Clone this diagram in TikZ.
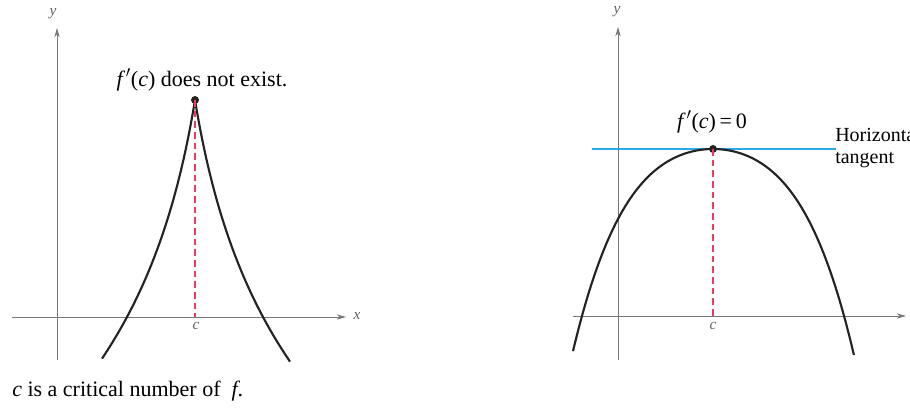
\documentclass[tikz,border=0pt]{standalone}
\usepackage{fontspec}
\setmainfont{Liberation Serif}
\usetikzlibrary{arrows.meta}
\definecolor{axisgray}{RGB}{120,120,120}
\definecolor{curveblack}{RGB}{35,35,35}
\definecolor{dashred}{RGB}{232,60,100}
\definecolor{tanblue}{RGB}{40,170,230}
\tikzset{
  axis/.style={draw=axisgray, line width=0.6pt, -{Stealth[length=7pt,width=4pt]}},
  curve/.style={draw=curveblack, line width=1.6pt},
  dropline/.style={draw=dashred, line width=1pt, dash pattern=on 5pt off 3pt},
  tangentline/.style={draw=tanblue, line width=1.1pt},
  pt/.style={circle, fill=curveblack, inner sep=0pt, minimum size=6pt},
  lbl/.style={font=\fontsize{16.5}{19}\selectfont, inner sep=0pt},
  sidelbl/.style={font=\fontsize{15}{17}\selectfont, inner sep=0pt, anchor=west},
  axlbl/.style={font=\fontsize{11.5}{13}\selectfont\itshape, inner sep=0pt, text=axisgray!80!black},
}
\begin{document}
\begin{tikzpicture}[x=0.75pt,y=-0.75pt]
\useasboundingbox (0,0) rectangle (910,408);
% ---------- left panel ----------
\coordinate (lyb) at (57,360);
\coordinate (lyt) at (57,28);
\coordinate (lxl) at (12,317);
\coordinate (lxr) at (346,317);
\draw[axis] (lyb) -- (lyt);
\draw[axis] (lxl) -- (lxr);
\node[axlbl] (ly) at (53,14) {y};
\node[axlbl] (lx) at (357,316) {x};
\coordinate (lfoot) at (195,317);
\draw[curve] plot[domain=0:93, samples=80] ({195-(\x)},{100+183.3*ln(1+(\x)/30)});
\draw[curve] plot[domain=0:95, samples=80] ({195+(\x)},{100+183.3*ln(1+(\x)/30)});
\node[pt] (cusp) at (195,100) {};
\draw[dropline] (cusp.center) -- (lfoot);
\node[axlbl] (lc) at (196,326) {c};
\node[lbl] (ltext) at (202,80) {\textit{f}\kern0.5pt$'$(\textit{c}) does not exist.};
\node[lbl, anchor=west] (cap) at (12,391) {\textit{c} is a critical number of \ \textit{f}.};
% ---------- right panel ----------
\coordinate (ryb) at (618,360);
\coordinate (ryt) at (618,27);
\coordinate (rxl) at (573,316);
\coordinate (rxr) at (906,316);
\draw[axis] (ryb) -- (ryt);
\draw[axis] (rxl) -- (rxr);
\node[axlbl] (ry) at (617,12) {y};
\coordinate (tl) at (592,149);
\coordinate (tr) at (836,149);
\draw[tangentline] (tl) -- (tr);
\draw[curve] plot[domain=-1.40:1.41, samples=120] ({713+100*(\x)},{149+55.7*(\x)^2+24.2*(\x)^4});
\coordinate (rfoot) at (713,316);
\node[pt] (top) at (713,149) {};
\draw[dropline] (top.center) -- (rfoot);
\node[axlbl] (rc) at (713,326) {c};
\node[lbl] (rtext) at (712,122) {\textit{f}\kern0.5pt$'$(\textit{c})\,=\,0};
\node[sidelbl] (htext) at (835,135) {Horizontal};
\node[sidelbl] (ttext) at (835,160) {tangent};
\end{tikzpicture}
\end{document}
